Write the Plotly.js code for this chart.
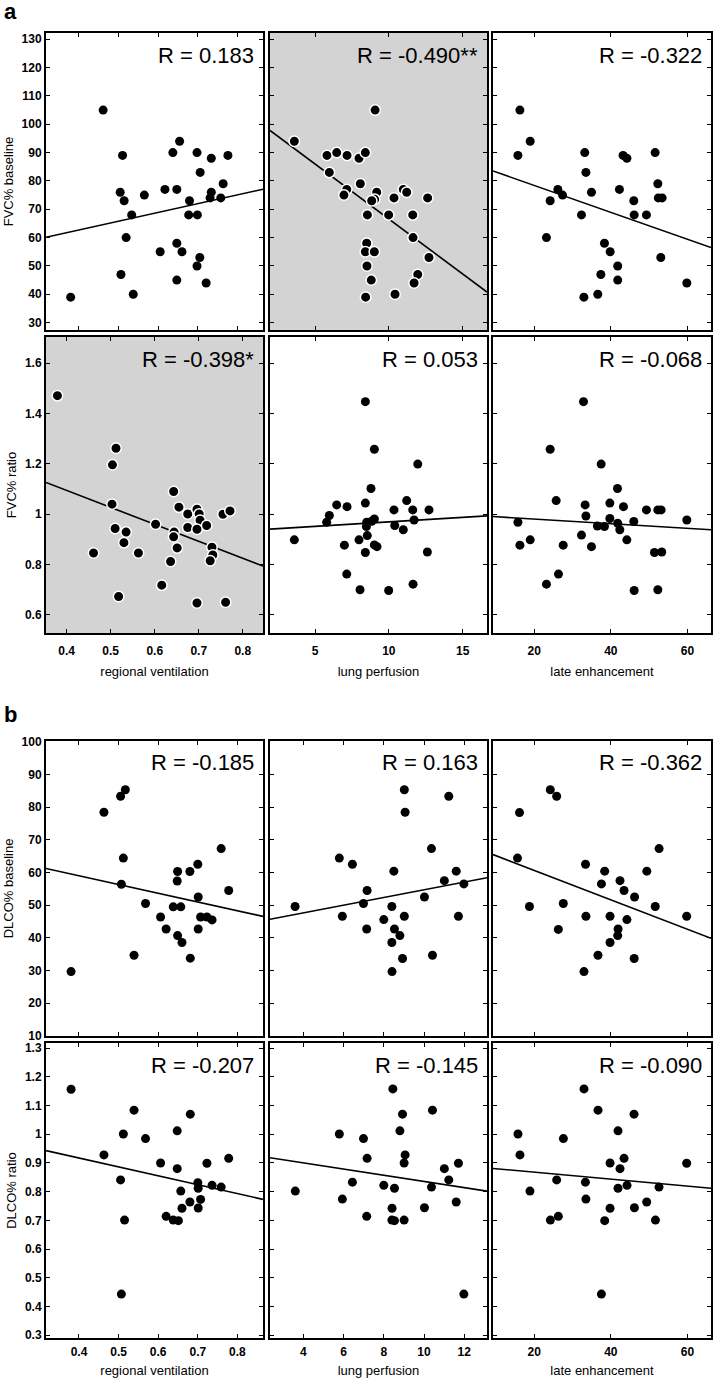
<!DOCTYPE html>
<html>
<head>
<meta charset="utf-8">
<script src="https://cdn.plot.ly/plotly-3.0.1.min.js"></script>
<style>html,body{margin:0;padding:0;background:#fff}#chart{width:714px;height:1381px}</style>
</head>
<body>
<div id="chart"></div>
<script>
// ---------------- data ----------------
const xTitles = ["regional ventilation", "lung perfusion", "late enhancement"];
const yTitles = ["FVC% baseline", "FVC% ratio", "DLCO% baseline", "DLCO% ratio"];
const panelLetters = ["a", "b"];

// panel a, row 1: FVC% baseline
const fvcBaseVent_x = [0.379,0.461,0.510,0.504,0.514,0.533,0.519,0.506,0.537,0.565,0.605,0.617,0.647,0.637,0.654,0.647,0.660,0.647,0.679,0.677,0.699,0.698,0.706,0.705,0.698,0.721,0.734,0.734,0.731,0.758,0.764,0.776];
const fvcBaseVent_y = [39,105,89,76,73,68,60,47,40,75,55,77,77,90,94,58,55,45,73,68,68,90,83,53,50,44,88,76,74,74,79,89];
const fvcBasePerf_x = [3.60,5.81,6.47,7.17,7.98,8.41,9.07,5.97,8.07,7.15,6.96,9.18,9.04,8.84,8.55,9.99,10.35,10.98,11.21,12.63,11.62,11.64,12.72,11.96,11.71,8.50,8.41,9.02,8.52,8.81,8.43,10.42];
const fvcBasePerf_y = [94,89,90,89,88,90,105,83,79,77,75,76,73.5,73,68,68,74,77,76,74,68,60,53,47,44,58,55,55,50,45,39,40];
const fvcBaseLate_x = [16.27,15.75,18.96,26.18,27.4,24.17,23.2,33.2,33.5,34.95,32.35,43.2,44.2,42.25,46.0,46.1,49.3,51.57,52.27,52.4,53.4,53.05,59.84,38.34,39.83,41.8,37.4,41.8,32.97,36.6];
const fvcBaseLate_y = [105,89,94,77,75,73,60,90,83,76,68,89,88,77,73,68,68,90,79,74,74,53,44,58,55,50,47,45,39,40];

// panel a, row 2: FVC% ratio
const fvcRatioVent_x = [0.379,0.512,0.504,0.503,0.510,0.535,0.530,0.461,0.563,0.518,0.602,0.616,0.643,0.655,0.644,0.643,0.651,0.636,0.675,0.675,0.696,0.701,0.703,0.696,0.718,0.730,0.732,0.726,0.755,0.771,0.696,0.761];
const fvcRatioVent_y = [1.471,1.262,1.196,1.040,0.943,0.929,0.887,0.846,0.846,0.673,0.960,0.718,1.090,1.028,0.929,0.910,0.866,0.812,1.001,0.947,1.020,1.001,0.976,0.940,0.955,0.869,0.838,0.815,1.000,1.013,0.647,0.650];
const fvcRatioPerf_x = [3.60,5.79,5.97,6.47,7.17,6.99,7.15,8.05,8.41,9.02,8.79,8.41,8.50,8.48,9.02,8.84,8.54,7.98,8.41,9.02,9.20,10.35,10.40,10.98,11.21,11.62,11.71,11.96,12.72,12.61,11.64,9.99];
const fvcRatioPerf_y = [0.898,0.968,0.995,1.037,1.030,0.877,0.762,0.700,1.447,1.258,1.102,1.044,0.968,0.951,0.981,0.972,0.915,0.898,0.848,0.878,0.871,1.017,0.955,0.938,1.054,1.017,0.977,1.199,1.017,0.850,0.722,0.697];
const fvcRatioLate_x = [15.75,16.27,18.96,23.2,24.17,25.74,26.34,27.57,32.87,33.3,33.5,32.35,34.95,37.48,36.5,38.34,39.75,39.75,41.74,41.8,42.35,43.3,44.18,46.0,46.1,49.3,52.27,53.13,51.39,53.3,52.27,59.84];
const fvcRatioLate_y = [0.968,0.877,0.898,0.722,1.258,1.054,0.762,0.877,1.447,1.037,0.993,0.917,0.871,1.199,0.953,0.951,1.044,0.983,1.102,0.964,0.938,1.030,0.898,0.971,0.697,1.017,1.017,1.017,0.848,0.850,0.700,0.977];

// panel b, row 1: DLCO% baseline
const dlcoBaseVent_x = [0.380,0.463,0.505,0.517,0.512,0.507,0.539,0.568,0.606,0.620,0.649,0.648,0.638,0.657,0.649,0.660,0.680,0.681,0.700,0.701,0.707,0.701,0.723,0.736,0.759,0.778];
const dlcoBaseVent_y = [29.7,78.4,83.3,85.3,64.4,56.4,34.7,50.5,46.4,42.7,60.3,57.4,49.5,49.5,40.7,38.6,60.3,33.8,62.5,52.5,46.4,42.7,46.4,45.5,67.3,54.5];
const dlcoBasePerf_x = [3.59,5.79,6.44,5.94,7.17,6.99,7.15,8.50,8.40,8.00,8.53,8.80,8.40,9.02,9.06,9.02,8.93,8.41,10.37,10.02,10.42,11.23,11.01,11.60,11.98,11.71];
const dlcoBasePerf_y = [49.6,64.4,62.5,46.6,54.5,50.5,42.7,60.4,49.6,45.6,42.7,40.7,38.6,85.3,78.4,46.6,33.7,29.7,67.3,52.5,34.7,83.3,57.5,60.4,56.5,46.6];
const dlcoBaseLate_x = [16.17,15.64,18.77,24.2,25.87,27.6,26.3,33.4,33.5,33.0,36.65,38.4,37.55,39.8,39.8,41.8,41.9,42.4,43.45,44.2,46.2,46.1,49.4,52.6,51.6,59.8];
const dlcoBaseLate_y = [78.3,64.4,49.6,85.3,83.3,50.5,42.6,62.5,46.6,29.7,34.7,60.4,56.5,46.6,38.6,40.7,42.7,57.5,54.5,45.6,52.5,33.7,60.4,67.3,49.6,46.6];

// panel b, row 2: DLCO% ratio
const dlcoRatioVent_x = [0.380,0.463,0.505,0.512,0.515,0.507,0.539,0.568,0.606,0.620,0.648,0.648,0.638,0.651,0.657,0.660,0.680,0.681,0.700,0.701,0.701,0.707,0.723,0.736,0.759,0.778];
const dlcoRatioVent_y = [1.157,0.928,0.841,1.001,0.701,0.443,1.084,0.985,0.900,0.714,1.012,0.880,0.701,0.699,0.802,0.742,0.764,1.070,0.831,0.812,0.743,0.773,0.899,0.822,0.816,0.916];
const dlcoRatioPerf_x = [3.60,5.79,5.94,6.44,6.99,7.17,7.15,8.00,8.45,8.53,8.41,8.40,8.53,8.93,8.80,9.06,9.01,9.01,10.42,10.37,10.02,11.01,11.23,11.71,11.60,11.98];
const dlcoRatioPerf_y = [0.802,1.001,0.774,0.833,0.985,0.916,0.714,0.822,1.158,0.812,0.742,0.701,0.699,1.070,1.012,0.928,0.900,0.701,1.084,0.816,0.744,0.880,0.841,0.899,0.764,0.443];
const dlcoRatioLate_x = [15.77,16.29,18.9,24.23,26.3,25.87,27.62,33.0,33.37,33.5,36.66,37.54,38.4,39.8,39.8,41.88,42.4,43.45,41.88,44.23,46.06,46.16,49.37,51.65,52.58,59.8];
const dlcoRatioLate_y = [1.001,0.928,0.802,0.701,0.714,0.841,0.985,1.158,0.833,0.774,1.084,0.443,0.699,0.900,0.742,1.012,0.880,0.916,0.812,0.822,1.070,0.744,0.764,0.701,0.816,0.899];

// regression fits (slope, intercept) and correlation labels, per subplot
const fitSlope     = [31.0, -3.88, -0.4747, -0.6734, 0.0036, -0.000923, -26.7, 1.176, -0.4498, -0.310, -0.01079, -0.001212];
const fitIntercept = [50.28, 105.37, 87.91, 1.3637, 0.9335, 0.9991, 69.66, 42.94, 69.62, 1.0412, 0.9433, 0.8921];
const rLabels = ["R = 0.183","R = -0.490**","R = -0.322","R = -0.398*","R = 0.053","R = -0.068",
                 "R = -0.185","R = 0.163","R = -0.362","R = -0.207","R = -0.145","R = -0.090"];
const significant = [false,true,false,true,false,false,false,false,false,false,false,false];

// ---------------- layout helpers ----------------
const W = 714, H = 1381;
const colPx = [[46,263],[270,487],[493,711]];
const rowPx = [[33,330],[337,633],[741,1036],[1043,1338]];
const xRanges = [[0.3167,0.8646],[1.951,16.65],[9.25,66.15],
                 [0.353,0.846],[1.951,16.65],[9.25,66.15],
                 [0.3167,0.8646],[2.343,13.13],[9.25,66.15],
                 [0.3167,0.8646],[2.343,13.13],[9.25,66.15]];
const xDticks = [0.1,5,20, 0.1,5,20, 0.1,2,20, 0.1,2,20];
const yRanges = [[27.4,132.2],[0.528,1.704],[10,100.2],[0.29,1.318]];
const yDticks = [10,0.2,10,0.1];
const xLabelPad = [0, 6, 0, 2];
const xTitlePad = [0, 9, 0, 7];

const series = [
  [fvcBaseVent_x,fvcBaseVent_y],[fvcBasePerf_x,fvcBasePerf_y],[fvcBaseLate_x,fvcBaseLate_y],
  [fvcRatioVent_x,fvcRatioVent_y],[fvcRatioPerf_x,fvcRatioPerf_y],[fvcRatioLate_x,fvcRatioLate_y],
  [dlcoBaseVent_x,dlcoBaseVent_y],[dlcoBasePerf_x,dlcoBasePerf_y],[dlcoBaseLate_x,dlcoBaseLate_y],
  [dlcoRatioVent_x,dlcoRatioVent_y],[dlcoRatioPerf_x,dlcoRatioPerf_y],[dlcoRatioLate_x,dlcoRatioLate_y]
];

const FONT = "Liberation Sans, Arial, Helvetica, sans-serif";
const traces = [];
const layout = {
  width: W, height: H,
  margin: {l:0, r:0, t:0, b:0},
  paper_bgcolor: "#ffffff",
  plot_bgcolor: "rgba(0,0,0,0)",
  showlegend: false,
  font: {family: FONT, color: "#000"},
  shapes: [], annotations: []
};

for (let i = 0; i < 12; i++) {
  const r = Math.floor(i / 3), c = i % 3;
  const n = i + 1;
  const xa = "x" + (n === 1 ? "" : n), ya = "y" + (n === 1 ? "" : n);
  const xk = "xaxis" + (n === 1 ? "" : n), yk = "yaxis" + (n === 1 ? "" : n);
  const bottomRow = (r === 1 || r === 3);
  const [x0, x1] = xRanges[i];

  // regression line across the axis range
  traces.push({
    type: "scatter", mode: "lines", xaxis: xa, yaxis: ya,
    x: [x0, x1], y: [fitIntercept[i] + fitSlope[i]*x0, fitIntercept[i] + fitSlope[i]*x1],
    line: {color: "#000", width: 1.6}, hoverinfo: "skip"
  });
  traces.push({
    type: "scatter", mode: "markers", xaxis: xa, yaxis: ya,
    x: series[i][0], y: series[i][1],
    marker: significant[i]
      ? {color: "#000", size: 10.5, line: {color: "#fff", width: 1.5}}
      : {color: "#000", size: 9, line: {width: 0}}
  });

  const common = {
    showgrid: false, zeroline: false, showline: true, linecolor: "#000", linewidth: 2,
    mirror: "allticks", ticks: "inside", ticklen: 4, tickwidth: 1, tickcolor: "#000",
    tickfont: {family: FONT, size: 12, weight: "bold", color: "#000"}, fixedrange: true
  };
  layout[xk] = Object.assign({}, common, {
    domain: [colPx[c][0]/W, colPx[c][1]/W], anchor: ya,
    range: xRanges[i], dtick: xDticks[i], tick0: 0,
    showticklabels: bottomRow, ticklabelstandoff: xLabelPad[r],
    title: bottomRow ? {text: xTitles[c], font: {family: FONT, size: 13, color: "#000"}, standoff: xTitlePad[r]} : {text: ""}
  });
  layout[yk] = Object.assign({}, common, {
    domain: [1 - rowPx[r][1]/H, 1 - rowPx[r][0]/H], anchor: xa,
    range: yRanges[r], dtick: yDticks[r], tick0: 0,
    showticklabels: c === 0,
    title: c === 0 ? {text: yTitles[r], font: {family: FONT, size: 13, color: "#000"}, standoff: 5} : {text: ""}
  });

  if (significant[i]) {
    layout.shapes.push({type: "rect", xref: xa + " domain", yref: ya + " domain",
      x0: 0, x1: 1, y0: 0, y1: 1, fillcolor: "#d3d3d3", line: {width: 0}, layer: "below"});
  }
  layout.annotations.push({
    xref: xa + " domain", yref: ya + " domain", x: 1, y: 1, xanchor: "right", yanchor: "middle",
    xshift: -7, yshift: -22, text: rLabels[i], showarrow: false,
    font: {family: FONT, size: 22, color: "#000"}
  });
}

layout.annotations.push({xref: "paper", yref: "paper", x: 2/W, y: 1 - 11/H, xanchor: "left", yanchor: "middle",
  text: "<b>" + panelLetters[0] + "</b>", showarrow: false, font: {family: FONT, size: 22, color: "#000"}});
layout.annotations.push({xref: "paper", yref: "paper", x: 2/W, y: 1 - 714/H, xanchor: "left", yanchor: "middle",
  text: "<b>" + panelLetters[1] + "</b>", showarrow: false, font: {family: FONT, size: 22, color: "#000"}});

Plotly.newPlot("chart", traces, layout, {staticPlot: true, displayModeBar: false});
</script>
</body>
</html>
